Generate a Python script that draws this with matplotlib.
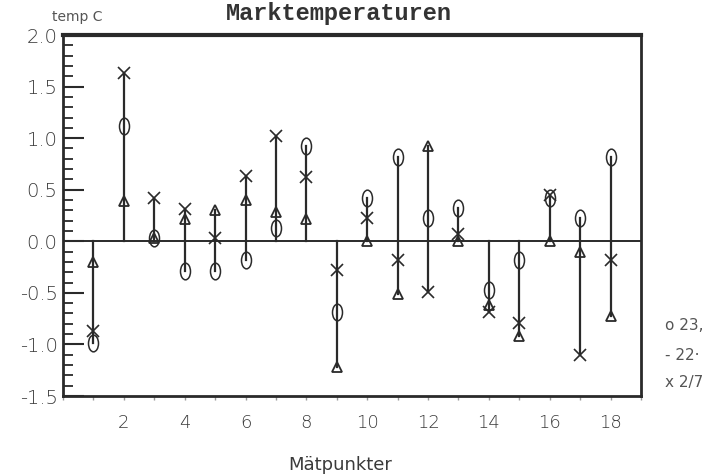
import matplotlib
matplotlib.use("Agg")
import matplotlib.pyplot as plt
import numpy as np
from matplotlib.path import Path
from matplotlib.transforms import Affine2D
from matplotlib.ticker import MultipleLocator

# Data
points = list(range(1, 19))
series_o = [-0.99, 1.12, 0.03, -0.29, -0.29, -0.18, 0.13, 0.92, -0.69, 0.42,
            0.82, 0.23, 0.32, -0.47, -0.18, 0.42, 0.23, 0.82]
series_tri = [-0.20, 0.39, 0.03, 0.22, 0.30, 0.40, 0.28, 0.22, -1.22, 0.00,
              -0.51, 0.92, 0.00, -0.62, -0.92, 0.00, -0.10, -0.72]
series_x = [-0.87, 1.63, 0.42, 0.31, 0.03, 0.63, 1.02, 0.62, -0.28, 0.23,
            -0.18, -0.49, 0.07, -0.69, -0.79, 0.45, -1.10, -0.18]
legend_labels = ["o 23,", "- 22\u00b7", "x 2/7"]
x_ticks = [2, 4, 6, 8, 10, 12, 14, 16, 18]
y_ticks = [2.0, 1.5, 1.0, 0.5, 0.0, -0.5, -1.0, -1.5]

ink = "#2a2a2a"
txt = "#3a3a3a"

fig = plt.figure(figsize=(7.13, 4.75), dpi=100)
ax = fig.add_axes([63/713, 1-396/475, (641-63)/713, (396-35)/475])
ax.set_xlim(0, 19)
ax.set_ylim(-1.5, 2.0)

# vertical range lines from baseline
for i, p in enumerate(points):
    vals = [series_o[i], series_tri[i], series_x[i], 0.0]
    ax.plot([p, p], [min(vals), max(vals)], color=ink, lw=1.6, zorder=2)

ax.axhline(0, color=ink, lw=1.4, zorder=1)

ellipse = Path.unit_circle().transformed(Affine2D().scale(0.6, 1.0))
ax.plot(points, series_o, linestyle="none", marker=ellipse, markersize=12,
        markerfacecolor="none", markeredgecolor=ink, markeredgewidth=1.1, zorder=3)
ax.plot(points, series_tri, linestyle="none", marker="^", markersize=7,
        markerfacecolor="none", markeredgecolor=ink, markeredgewidth=1.3, zorder=3)
ax.plot(points, series_x, linestyle="none", marker="x", markersize=8,
        markeredgecolor=ink, markeredgewidth=1.2, zorder=3)

# spines
for s in ["left", "bottom", "right"]:
    ax.spines[s].set_linewidth(2.0)
    ax.spines[s].set_color(ink)
ax.spines["top"].set_linewidth(3.0)
ax.spines["top"].set_color(ink)

ax.set_yticks(y_ticks)
ax.set_yticklabels([f"{v:.1f}" for v in y_ticks])
ax.yaxis.set_minor_locator(MultipleLocator(0.1))
ax.tick_params(axis="y", which="major", direction="in", length=15, width=1.5,
               color=ink, labelsize=14, labelcolor=txt, pad=4, right=False)
ax.tick_params(axis="y", which="minor", direction="in", length=7, width=1.3,
               color=ink, right=False)
for lbl in ax.get_yticklabels() + ax.get_xticklabels():
    lbl.set_fontweight("light")

ax.set_xticks(x_ticks)
ax.set_xticklabels([str(v) for v in x_ticks])
ax.xaxis.set_minor_locator(MultipleLocator(1))
ax.tick_params(axis="x", which="major", direction="out", length=3, width=1,
               color="#999999", labelsize=13, labelcolor=txt, pad=10, top=False)
ax.tick_params(axis="x", which="minor", direction="out", length=3, width=1,
               color="#999999", top=False)

fig.text(340/713, 1-465/475, "M\u00e4tpunkter", ha="center", va="center",
         fontsize=13, color=txt)
fig.text(339/713, 1-2/475, "Marktemperaturen", ha="center", va="top",
         fontsize=17, fontweight="bold", family="Liberation Mono", color="#333333")
fig.text(52/713, 1-17/475, "temp C", ha="left", va="center", fontsize=10, color="#555555")

legend_y = [325, 355, 383]
for lab, yy in zip(legend_labels, legend_y):
    fig.text(665/713, 1-yy/475, lab, ha="left", va="center", fontsize=11, color="#555555")

fig.savefig("out.png", dpi=100)
